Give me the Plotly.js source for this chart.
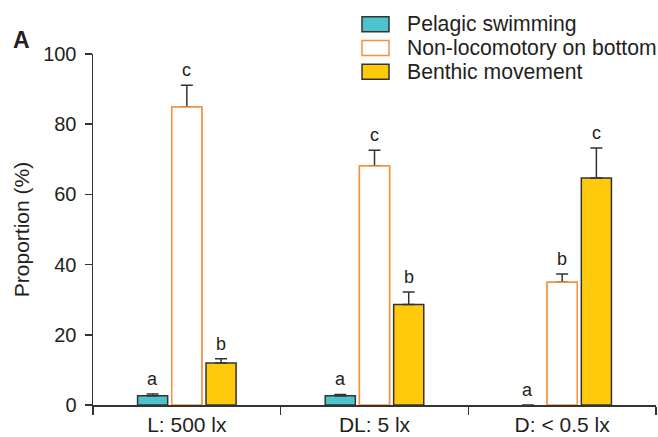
<!DOCTYPE html>
<html>
<head>
<meta charset="utf-8">
<script src="https://cdn.plot.ly/plotly-3.0.1.min.js"></script>
<style>html,body{margin:0;padding:0;background:#fff;}#chart{width:658px;height:437px;}</style>
</head>
<body>
<div id="chart"></div>
<script>
// ---- data ----
const categories = ["L: 500 lx", "DL: 5 lx", "D: < 0.5 lx"];
const seriesNames = ["Pelagic swimming", "Non-locomotory on bottom", "Benthic movement"];
const pelagic = [2.6, 2.6, 0];
const pelagicErr = [0.5, 0.4, null];
const nonLoco = [84.9, 68.1, 35.0];
const nonLocoErr = [6.2, 4.5, 2.3];
const benthic = [12.0, 28.6, 64.7];
const benthicErr = [1.2, 3.6, 8.5];
const pelagicLetters = ["a", "a", "a"];
const nonLocoLetters = ["c", "c", "b"];
const benthicLetters = ["b", "b", "c"];
const yTickVals = [0, 20, 40, 60, 80, 100];

// ---- style ----
const FONT = "Liberation Sans, Arial, Helvetica, sans-serif";
const TXT = "#231f20";
const fills = ["#4dc4cb", "#ffffff", "#ffca0c"];
const lines = ["#333333", "#f5923e", "#333333"];
const groups = ["p", "n", "b"];
const W = 658, H = 437;
const M = {l: 93, r: 2, t: 54, b: 32};
const BARGAP = 0.453, BARGROUPGAP = 0.12;

const vals = [pelagic, nonLoco, benthic];
const errs = [pelagicErr, nonLocoErr, benthicErr];
const letters = [pelagicLetters, nonLocoLetters, benthicLetters];

const traces = vals.map((v, k) => ({
  type: "bar",
  name: seriesNames[k],
  x: categories,
  y: v,
  offsetgroup: groups[k],
  marker: {color: fills[k], line: {color: lines[k], width: v.map(y => y > 0 ? 1.5 : 0)}},
  error_y: {type: "data", symmetric: false, array: errs[k], arrayminus: errs[k].map(e => e === null ? null : 0),
            color: "#333333", thickness: 1.5, width: 6},
  showlegend: false,
  hoverinfo: "skip"
}));
// redraw the outlined (non-locomotory) bars on top so the error-bar foot does not show on their orange edge
traces.push({
  type: "bar", name: seriesNames[1], x: categories, y: nonLoco, offsetgroup: groups[1],
  marker: {color: fills[1], line: {color: lines[1], width: 1.5}},
  showlegend: false, hoverinfo: "skip"
});

const pitch = (1 - BARGAP) / 3;
const annotations = [];
letters.forEach((arr, k) => {
  arr.forEach((t, i) => {
    const top = vals[k][i] + (errs[k][i] || 0);
    annotations.push({
      x: i + (k - 1) * pitch, y: top, xref: "x", yref: "y",
      text: t, showarrow: false, yanchor: "bottom", yshift: 3,
      font: {family: FONT, size: 18, color: TXT}
    });
  });
});

// custom legend (paper coordinates from pixel positions)
const pw = W - M.l - M.r, ph = H - M.t - M.b;
const px2x = p => (p - M.l) / pw;
const py2y = p => (H - M.b - p) / ph;
const legendRowsY = [24.2, 48, 71.7];
const shapes = [];
seriesNames.forEach((n, k) => {
  const cy = legendRowsY[k];
  shapes.push({type: "rect", xref: "paper", yref: "paper",
    x0: px2x(362), x1: px2x(389), y0: py2y(cy + 7.5), y1: py2y(cy - 7.5),
    fillcolor: fills[k], line: {color: lines[k], width: 1.5}});
  annotations.push({xref: "paper", yref: "paper", x: px2x(405), y: py2y(cy),
    xanchor: "left", yanchor: "middle", text: n, showarrow: false,
    font: {family: FONT, size: 21.2, color: TXT}});
});
annotations.push({xref: "paper", yref: "paper", x: px2x(21), y: py2y(39.5),
  xanchor: "center", yanchor: "middle", text: "<b>A</b>", showarrow: false,
  font: {family: FONT, size: 23, color: TXT}});

const layout = {
  width: W, height: H,
  margin: M,
  paper_bgcolor: "#fff", plot_bgcolor: "#fff",
  barmode: "group", bargap: BARGAP, bargroupgap: BARGROUPGAP,
  font: {family: FONT, size: 20, color: TXT},
  xaxis: {
    type: "category", range: [-0.5, 2.5], tickson: "boundaries",
    ticks: "outside", ticklen: 8, tickwidth: 1.5, tickcolor: "#333",
    showline: true, linecolor: "#333", linewidth: 1.5, showgrid: false,
    tickfont: {family: FONT, size: 21, color: TXT}, ticklabelstandoff: 0,
    automargin: false, fixedrange: true
  },
  yaxis: {
    range: [0, 100], tickvals: yTickVals, ticks: "outside", ticklen: 7, tickwidth: 1.5, tickcolor: "#333",
    showline: true, linecolor: "#333", linewidth: 1.5, showgrid: false, zeroline: false,
    tickfont: {family: FONT, size: 20, color: TXT}, ticklabelstandoff: 4,
    title: {text: "Proportion (%)", font: {family: FONT, size: 21, color: TXT}, standoff: 8},
    automargin: false, fixedrange: true
  },
  shapes: shapes,
  annotations: annotations
};

Plotly.newPlot("chart", traces, layout, {displayModeBar: false, staticPlot: true});
</script>
</body>
</html>
